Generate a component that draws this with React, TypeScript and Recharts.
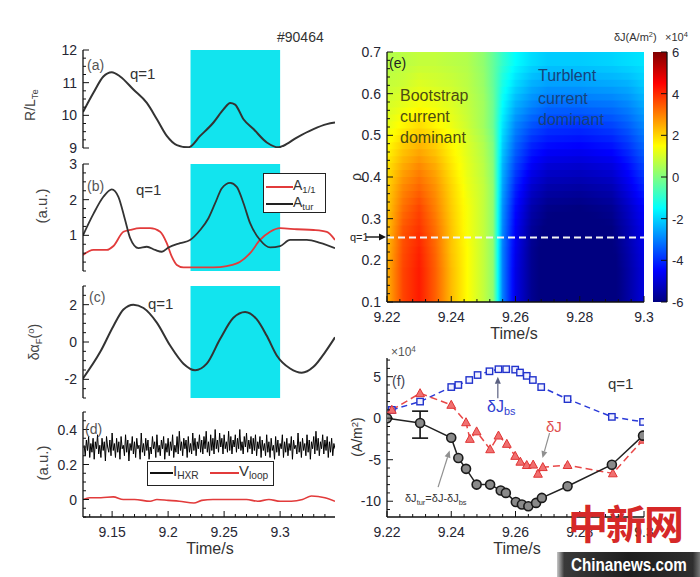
import React from 'react';
import { ComposedChart, Line, XAxis, YAxis, ReferenceArea, ReferenceLine, ErrorBar } from 'recharts';

const FONT = '"Liberation Sans", Arial, Helvetica, sans-serif';

// ---------------- shaded window ----------------
const windowStart = 9.22;
const windowEnd = 9.3;

// ---------------- panel (a) R/L_Te ----------------
const aTime = [9.124, 9.1333, 9.1422, 9.1497, 9.1571, 9.169, 9.181, 9.19, 9.1988, 9.2078, 9.2181, 9.2286, 9.2405, 9.2494, 9.2554, 9.2598, 9.2673, 9.2762, 9.2881, 9.2985, 9.303, 9.3149, 9.3298, 9.3417, 9.349];
const aRLTe = [10.1, 10.69, 11.19, 11.32, 11.19, 10.79, 10.38, 9.88, 9.37, 9.09, 9.02, 9.37, 9.78, 10.18, 10.38, 10.33, 9.88, 9.58, 9.17, 9.02, 9.07, 9.32, 9.58, 9.73, 9.78];

// ---------------- panel (b) ----------------
const bTurTime = [9.124, 9.1333, 9.1422, 9.1497, 9.1556, 9.1616, 9.1661, 9.1735, 9.181, 9.1884, 9.1944, 9.2003, 9.2107, 9.2196, 9.2286, 9.236, 9.242, 9.248, 9.2554, 9.2613, 9.2673, 9.2732, 9.2821, 9.2911, 9.3, 9.3089, 9.3238, 9.3357, 9.349];
const bTur = [1.0, 1.6, 2.08, 2.29, 2.08, 1.43, 0.92, 0.64, 0.68, 0.59, 0.54, 0.66, 0.78, 0.87, 1.15, 1.48, 1.9, 2.32, 2.47, 2.36, 1.9, 1.34, 0.87, 0.66, 0.7, 0.87, 0.87, 0.79, 0.64];
const bA11Time = [9.124, 9.1333, 9.1452, 9.1512, 9.1601, 9.166, 9.175, 9.1839, 9.1929, 9.1988, 9.2033, 9.2078, 9.2137, 9.2226, 9.2405, 9.2524, 9.2643, 9.2732, 9.2821, 9.2911, 9.3, 9.3149, 9.3298, 9.3417, 9.349];
const bA11 = [0.45, 0.59, 0.59, 0.7, 1.1, 1.15, 1.2, 1.2, 1.1, 0.78, 0.4, 0.17, 0.1, 0.1, 0.1, 0.14, 0.26, 0.5, 0.87, 1.1, 1.2, 1.17, 1.15, 1.1, 0.87];

// ---------------- panel (c) ----------------
const cTime = [9.124, 9.1393, 9.1512, 9.1601, 9.169, 9.178, 9.1899, 9.2018, 9.2137, 9.2241, 9.2345, 9.2464, 9.2583, 9.2688, 9.2792, 9.2881, 9.297, 9.3089, 9.3193, 9.3298, 9.3402, 9.349];
const cAlpha = [-1.95, -0.54, 0.86, 1.74, 2.0, 1.82, 1.04, -0.19, -1.16, -1.51, -1.16, 0.16, 1.3, 1.61, 1.21, 0.33, -0.72, -1.42, -1.65, -1.33, -0.54, 0.25];

// ---------------- panel (d) ----------------
const dHxrStart = 9.125;
const dHxrStep = 0.001;
const dHxr = [
  0.31, 0.25, 0.34, 0.28, 0.36, 0.24, 0.32, 0.27, 0.35, 0.23, 0.33, 0.29, 0.37, 0.26, 0.31,
  0.24, 0.35, 0.28, 0.33, 0.22, 0.36, 0.30, 0.27, 0.34, 0.25, 0.38, 0.28, 0.32, 0.24, 0.35,
  0.27, 0.33, 0.23, 0.36, 0.29, 0.31, 0.25, 0.37, 0.27, 0.34, 0.22, 0.32, 0.28, 0.36, 0.26,
  0.33, 0.24, 0.35, 0.29, 0.31, 0.23, 0.38, 0.27, 0.32, 0.25, 0.35, 0.28, 0.34, 0.23, 0.30,
  0.26, 0.36, 0.29, 0.33, 0.24, 0.37, 0.27, 0.31, 0.25, 0.34, 0.29, 0.36, 0.23, 0.32, 0.27,
  0.35, 0.25, 0.33, 0.28, 0.37, 0.24, 0.31, 0.27, 0.36, 0.26, 0.39, 0.28, 0.33, 0.25, 0.35,
  0.29, 0.34, 0.24, 0.36, 0.27, 0.32, 0.26, 0.38, 0.28, 0.35, 0.25, 0.33, 0.29, 0.37, 0.27,
  0.34, 0.26, 0.36, 0.29, 0.39, 0.27, 0.33, 0.25, 0.37, 0.28, 0.35, 0.26, 0.40, 0.29, 0.34,
  0.27, 0.38, 0.30, 0.35, 0.26, 0.37, 0.29, 0.33, 0.27, 0.39, 0.28, 0.36, 0.26, 0.34, 0.30,
  0.37, 0.27, 0.35, 0.29, 0.40, 0.28, 0.33, 0.26, 0.36, 0.30, 0.38, 0.27, 0.34, 0.29, 0.36,
  0.26, 0.35, 0.28, 0.37, 0.25, 0.33, 0.29, 0.36, 0.24, 0.34, 0.28, 0.32, 0.25, 0.37, 0.27,
  0.33, 0.24, 0.35, 0.28, 0.31, 0.23, 0.36, 0.27, 0.34, 0.25, 0.32, 0.29, 0.37, 0.24, 0.33,
  0.27, 0.35, 0.25, 0.32, 0.28, 0.36, 0.23, 0.34, 0.29, 0.31, 0.26, 0.38, 0.27, 0.33, 0.24,
  0.35, 0.28, 0.32, 0.25, 0.37, 0.27, 0.34, 0.23, 0.33, 0.29, 0.36, 0.26, 0.39, 0.28, 0.35,
  0.25, 0.33, 0.29, 0.37, 0.26, 0.34, 0.28, 0.36, 0.24, 0.33, 0.27, 0.35, 0.25, 0.32, 0.29,
];
const dVloopTime = [9.124, 9.13, 9.14, 9.151, 9.16, 9.17, 9.184, 9.19, 9.2, 9.21, 9.223, 9.23, 9.24, 9.25, 9.26, 9.27, 9.28, 9.29, 9.3, 9.31, 9.32, 9.328, 9.34, 9.349];
const dVloop = [0.0, 0.01, 0.01, 0.015, 0.0, 0.0, -0.01, 0.0, -0.005, -0.01, -0.02, -0.005, 0.0, 0.0, 0.0, 0.0, -0.01, 0.0, -0.01, -0.01, 0.0, 0.02, 0.01, -0.01];

// ---------------- panel (e) heat map (x1e4 A/m^2) ----------------
const heatTimes = [9.22, 9.225, 9.23, 9.235, 9.24, 9.245, 9.25, 9.253, 9.256, 9.26, 9.265, 9.27, 9.28, 9.29, 9.295, 9.3];
const heatRho = [0.125, 0.175, 0.225, 0.275, 0.325, 0.375, 0.425, 0.475, 0.525, 0.575, 0.625, 0.675];
const heatValues = [
  [2.4, 3.7, 4.2, 3.4, 2.3, 1.5, 0.8, 0.2, -3.0, -4.8, -5.8, -6.2, -6.3, -6.2, -5.6, -4.9],
  [2.4, 3.7, 4.2, 3.4, 2.3, 1.5, 0.8, 0.2, -3.0, -4.8, -5.8, -6.2, -6.3, -6.2, -5.6, -4.9],
  [2.3, 3.6, 4.1, 3.3, 2.2, 1.5, 0.8, 0.2, -3.0, -4.7, -5.8, -6.2, -6.3, -6.1, -5.5, -4.8],
  [2.2, 3.5, 3.9, 3.2, 2.2, 1.4, 0.8, 0.2, -2.9, -4.6, -5.7, -6.1, -6.2, -6.0, -5.4, -4.7],
  [2.1, 3.2, 3.7, 3.0, 2.1, 1.4, 0.8, 0.2, -2.8, -4.4, -5.5, -5.9, -6.0, -5.8, -5.2, -4.5],
  [2.0, 2.9, 3.3, 2.8, 2.0, 1.3, 0.8, 0.2, -2.6, -4.1, -5.1, -5.5, -5.6, -5.4, -4.8, -4.1],
  [1.8, 2.5, 2.9, 2.5, 1.8, 1.2, 0.7, 0.1, -2.4, -3.7, -4.6, -5.0, -5.1, -4.9, -4.4, -3.7],
  [1.5, 2.1, 2.4, 2.1, 1.6, 1.1, 0.6, 0.0, -2.1, -3.3, -4.1, -4.4, -4.5, -4.3, -3.9, -3.3],
  [1.2, 1.6, 1.9, 1.6, 1.3, 0.9, 0.4, -0.2, -1.8, -2.9, -3.5, -3.8, -3.9, -3.7, -3.4, -2.9],
  [1.0, 1.2, 1.4, 1.3, 1.1, 0.8, 0.4, -0.2, -1.5, -2.4, -2.9, -3.2, -3.2, -3.1, -2.9, -2.5],
  [0.8, 0.9, 1.1, 1.0, 0.9, 0.7, 0.3, -0.3, -1.2, -1.9, -2.4, -2.6, -2.6, -2.5, -2.4, -2.1],
  [0.6, 0.7, 0.8, 0.8, 0.7, 0.6, 0.2, -0.3, -0.9, -1.5, -1.9, -2.1, -2.1, -2.0, -1.9, -1.8],
];
const qRho = 0.255;
const cbarLabels = [-6, -4, -2, 0, 2, 4, 6];
const cbarLevels = [-6, -5.5, -5, -4.5, -4, -3.5, -3, -2.5, -2, -1.5, -1, -0.5, 0, 0.5, 1, 1.5, 2, 2.5, 3, 3.5, 4, 4.5, 5, 5.5, 6];

// ---------------- panel (f) (x1e4 A/m^2) ----------------
const fBsTime = [9.2215, 9.2303, 9.24, 9.2422, 9.2456, 9.2482, 9.2519, 9.2547, 9.2571, 9.2599, 9.2614, 9.2635, 9.2654, 9.268, 9.2762, 9.29, 9.2997];
const fBs = [1.0, 2.0, 3.75, 4.0, 4.6, 5.2, 5.65, 5.9, 5.9, 5.85, 5.5, 5.1, 4.6, 3.75, 2.3, 0.16, -0.45];
const fJTime = [9.2215, 9.2303, 9.24, 9.2446, 9.2458, 9.2479, 9.2521, 9.2547, 9.2573, 9.2599, 9.2615, 9.2635, 9.2655, 9.267, 9.2685, 9.2762, 9.2903, 9.2997];
const fJ = [1.0, 3.0, 1.6, -0.5, -2.5, -1.6, -3.75, -2.1, -3.1, -4.55, -5.25, -5.65, -5.6, -6.7, -5.9, -5.65, -6.65, -2.6];
const fTurTime = [9.22, 9.2303, 9.24, 9.2422, 9.2446, 9.2479, 9.2521, 9.2554, 9.257, 9.2601, 9.262, 9.264, 9.2664, 9.2682, 9.2762, 9.29, 9.2997];
const fTur = [0, -0.57, -2.35, -4.8, -6.1, -8.0, -8.0, -8.7, -9.0, -10.1, -10.4, -10.6, -10.2, -9.6, -8.2, -5.6, -2.1];
const fErrTime = [9.2303];
const fErrVal = [-0.57];
const fErrLow = [1.83];
const fErrHigh = [1.42];
const fArrows = [
  { x1: 9.2545, y1: 2.4, x2: 9.2545, y2: 5.0, color: '#5a6080' },
  { x1: 9.2706, y1: -1.8, x2: 9.2684, y2: -4.8, color: '#909090' },
  { x1: 9.2359, y1: -8.3, x2: 9.2395, y2: -3.9, color: '#909090' },
];

// ---------------- tick labels ----------------
const leftXLabels = [9.15, 9.2, 9.25, 9.3];
const aYLabels = [9, 10, 11, 12];
const bYLabels = [1, 2, 3];
const cYLabels = [-2, 0, 2];
const dYLabels = [0, 0.2, 0.4];
const eXLabels = [9.22, 9.24, 9.26, 9.28, 9.3];
const eYLabels = [0.1, 0.2, 0.3, 0.4, 0.5, 0.6, 0.7];
const fXLabels = [9.22, 9.24, 9.26, 9.28, 9.3];
const fYLabels = [-10, -5, 0, 5];

// ---------------- helpers ----------------
const seq = (a: number, b: number, s: number) => {
  const out: number[] = [];
  const n = Math.round((b - a) / s);
  for (let i = 0; i <= n; i++) out.push(+(a + i * s).toFixed(6));
  return out;
};
const zip = (t: number[], v: number[]) => t.map((x, i) => ({ t: x, v: v[i] }));

function jet(v: number) {
  const x = Math.min(1, Math.max(0, (v + 6) / 12));
  const c = (f: number) => Math.round(255 * Math.min(1, Math.max(0, f)));
  return `rgb(${c(1.5 - Math.abs(4 * x - 3))},${c(1.5 - Math.abs(4 * x - 2))},${c(1.5 - Math.abs(4 * x - 1))})`;
}

// heat-map bands (rendering only: colour stops built from heatValues)
const NB = 36;
const SUB = 4;
const rowAt = (rho: number) => {
  if (rho <= heatRho[0]) return heatValues[0];
  if (rho >= heatRho[heatRho.length - 1]) return heatValues[heatValues.length - 1];
  let i = 0;
  while (heatRho[i + 1] < rho) i++;
  const f = (rho - heatRho[i]) / (heatRho[i + 1] - heatRho[i]);
  return heatValues[i].map((v, j) => v + (heatValues[i + 1][j] - v) * f);
};
const heatBands = Array.from({ length: NB }, (_, k) => {
  const h = 0.6 / NB;
  const y1 = 0.1 + k * h;
  const y2 = Math.min(0.7, y1 + h + 0.004);
  const row = rowAt(y1 + h / 2);
  const stops: { o: number; c: string }[] = [];
  for (let i = 0; i < heatTimes.length - 1; i++) {
    for (let s = 0; s < SUB; s++) {
      const f = s / SUB;
      const t = heatTimes[i] + (heatTimes[i + 1] - heatTimes[i]) * f;
      const v = row[i] + (row[i + 1] - row[i]) * f;
      stops.push({ o: (t - 9.22) / 0.08, c: jet(v) });
    }
  }
  stops.push({ o: 1, c: jet(row[row.length - 1]) });
  return { id: `hb${k}`, y1, y2, stops };
});
const cbarStops = cbarLevels.map((v) => ({ o: (v + 6) / 12, c: jet(v) }));

type Box = { l: number; t: number; r: number; b: number };
const PAD = 10;
function frame(box: Box, yw: number, xh: number, rw = 0) {
  return {
    style: { position: 'absolute' as const, left: box.l - yw - PAD, top: box.t - PAD },
    width: box.r - box.l + yw + rw + 2 * PAD,
    height: box.b - box.t + xh + 2 * PAD,
    margin: { top: PAD, right: PAD, bottom: PAD, left: PAD },
  };
}
const AX = { stroke: '#111', strokeWidth: 1.3 };
const isIn = (list: number[] | null, v: number) => !!list && list.some((m) => Math.abs(m - v) < 1e-9);

// custom inward tick: draws the tick line (major longer) and the label for labelled majors
const mkTick = (side: 'b' | 't' | 'l' | 'r', majors: number[], labels: boolean, fontSize = 14, show = true) => (p: any) => {
  if (!show) return <g />;
  const v = p.payload?.value as number;
  const x = p.x as number, y = p.y as number;
  const major = isIn(majors, v);
  const len = major ? 6 : 3;
  let ln: React.ReactNode;
  let tx: React.ReactNode = null;
  const ts = { fill: '#262633', fontSize, fontFamily: FONT };
  if (side === 'b') {
    ln = <line x1={x} y1={y} x2={x} y2={y - len} stroke="#111" strokeWidth={1} />;
    if (labels && major) tx = <text x={x} y={y + 20} textAnchor="middle" {...ts}>{String(v)}</text>;
  } else if (side === 't') {
    ln = <line x1={x} y1={y} x2={x} y2={y + len} stroke="#111" strokeWidth={1} />;
  } else if (side === 'l') {
    ln = <line x1={x} y1={y} x2={x + len} y2={y} stroke="#111" strokeWidth={1} />;
    if (labels && major) tx = <text x={x - 6} y={y + 5} textAnchor="end" {...ts}>{String(v)}</text>;
  } else {
    ln = <line x1={x} y1={y} x2={x - len} y2={y} stroke="#111" strokeWidth={1} />;
    if (labels && major) tx = <text x={x + 5} y={y + 5} textAnchor="start" {...ts}>{String(v)}</text>;
  }
  return <g>{ln}{tx}</g>;
};

function frameAxes(p: {
  xd: [number, number]; yd: [number, number]; xt: number[]; yt: number[];
  xm: number[]; ym: number[]; xl: boolean; yl: boolean; xh: number; yw: number;
  rl?: boolean; rw?: number; showX?: boolean; showL?: boolean;
}) {
  const common = { type: 'number' as const, allowDataOverflow: true, interval: 0 as const, tickSize: 0, tickMargin: 0, tickLine: false, axisLine: AX };
  const showX = p.showX !== false;
  const showL = p.showL !== false;
  return [
    <XAxis key="xb" xAxisId="b" dataKey="t" orientation="bottom" domain={p.xd} ticks={p.xt} height={p.xh} tick={mkTick('b', p.xm, p.xl, 14, showX)} {...common} />,
    <XAxis key="xt" xAxisId="t" dataKey="t" orientation="top" domain={p.xd} ticks={p.xt} height={0} tick={mkTick('t', p.xm, false, 14, showX)} {...common} />,
    <YAxis key="yl" yAxisId="l" orientation="left" domain={p.yd} ticks={p.yt} width={p.yw} tick={mkTick('l', p.ym, p.yl, 14, showL)} {...common} />,
    <YAxis key="yr" yAxisId="r" orientation="right" domain={p.yd} ticks={p.yt} width={p.rw ?? 0} tick={mkTick('r', p.ym, !!p.rl, 13)} {...common} />,
  ];
}

function Txt(props: { x: number; y: number; size?: number; color?: string; rotate?: boolean; center?: boolean; children: React.ReactNode }) {
  const { x, y, size = 14, color = '#222', rotate, center, children } = props;
  return (
    <div style={{
      position: 'absolute', left: x, top: y, fontSize: size, color, fontFamily: FONT, lineHeight: 1, whiteSpace: 'nowrap',
      transform: rotate ? 'translate(-50%,-50%) rotate(-90deg)' : center ? 'translate(-50%,-50%)' : 'translateY(-50%)',
    }}>{children}</div>
  );
}
const Sub = ({ children }: { children: React.ReactNode }) => <span style={{ fontSize: '0.68em', verticalAlign: '-0.35em' }}>{children}</span>;
const Sup = ({ children }: { children: React.ReactNode }) => <span style={{ fontSize: '0.68em', verticalAlign: '0.5em' }}>{children}</span>;
const Seg = ({ x1, x2, y, color }: { x1: number; x2: number; y: number; color: string }) =>
  <div style={{ position: 'absolute', left: x1, top: y - 1, width: x2 - x1, height: 2, background: color }} />;

const squareDot = (p: any) => (
  <rect key={`s${p.index}`} x={p.cx - 3.2} y={p.cy - 3.2} width={6.4} height={6.4} fill="#f2f2ff" stroke="#2233cc" strokeWidth={1.4} />
);
const triDot = (p: any) => (
  <polygon key={`t${p.index}`} points={`${p.cx},${p.cy - 4.6} ${p.cx - 4.4},${p.cy + 3.4} ${p.cx + 4.4},${p.cy + 3.4}`} fill="#f07070" stroke="#e03535" strokeWidth={1} />
);
const circDot = (p: any) => (
  <circle key={`c${p.index}`} cx={p.cx} cy={p.cy} r={4.5} fill="#8a8a8a" stroke="#1a1a1a" strokeWidth={1.6} />
);
const arrowShape = (color: string) => (p: any) => {
  const { x1, y1, x2, y2 } = p;
  const ang = Math.atan2(y2 - y1, x2 - x1);
  const L = 7, W = 3;
  const bx = x2 - L * Math.cos(ang), by = y2 - L * Math.sin(ang);
  const px = -Math.sin(ang) * W, py = Math.cos(ang) * W;
  return (
    <g>
      <line x1={x1} y1={y1} x2={bx} y2={by} stroke={color} strokeWidth={1.2} />
      <polygon points={`${x2},${y2} ${bx + px},${by + py} ${bx - px},${by - py}`} fill={color} />
    </g>
  );
};

// ---------------- layout boxes ----------------
const LX: [number, number] = [9.124, 9.349];
const boxA: Box = { l: 83, t: 50, r: 335, b: 148 };
const boxB: Box = { l: 83, t: 164, r: 335, b: 271 };
const boxC: Box = { l: 83, t: 286, r: 335, b: 398 };
const boxD: Box = { l: 83, t: 412, r: 335, b: 517 };
const boxE: Box = { l: 387, t: 52, r: 644, b: 302 };
const boxCb: Box = { l: 653, t: 52, r: 667, b: 302 };
const boxF: Box = { l: 387, t: 358, r: 644, b: 517 };

const leftXT = seq(9.13, 9.34, 0.01);

function LeftPanel(props: { box: Box; yd: [number, number]; yt: number[]; yl: number[]; xLabels: boolean; shade: boolean; children: React.ReactNode }) {
  const xh = props.xLabels ? 25 : 0;
  const f = frame(props.box, 40, xh);
  return (
    <div style={f.style}>
      <ComposedChart width={f.width} height={f.height} margin={f.margin}>
        {props.shade && <ReferenceArea xAxisId="b" yAxisId="l" x1={windowStart} x2={windowEnd} fill="#12e4ee" fillOpacity={1} stroke="none" ifOverflow="hidden" />}
        {props.children}
        {frameAxes({ xd: LX, yd: props.yd, xt: leftXT, yt: props.yt, xm: leftXLabels, ym: props.yl, xl: props.xLabels, yl: true, xh, yw: 40 })}
      </ComposedChart>
    </div>
  );
}

export default function App() {
  const fE = frame(boxE, 40, 25);
  const fCb = frame(boxCb, 0, 0, 25);
  const fF = frame(boxF, 40, 25);
  const hxrData = dHxr.map((v, i) => ({ t: +(dHxrStart + i * dHxrStep).toFixed(4), v }));
  const errData = fErrTime.map((t, i) => ({ t, v: fErrVal[i], err: [fErrLow[i], fErrHigh[i]] }));

  return (
    <div style={{ position: 'absolute', left: 0, top: 0, width: 700, height: 577, background: '#fff', overflow: 'hidden', fontFamily: FONT }}>
      <svg width={0} height={0} style={{ position: 'absolute' }}>
        <defs>
          {heatBands.map((b) => (
            <linearGradient key={b.id} id={b.id} x1="0" y1="0" x2="1" y2="0">
              {b.stops.map((s, i) => <stop key={i} offset={s.o} stopColor={s.c} />)}
            </linearGradient>
          ))}
          <linearGradient id="cbarGrad" x1="0" y1="1" x2="0" y2="0">
            {cbarStops.map((s, i) => <stop key={i} offset={s.o} stopColor={s.c} />)}
          </linearGradient>
        </defs>
      </svg>

      {/* (a) */}
      <LeftPanel box={boxA} yd={[9, 12]} yt={seq(9, 12, 0.25)} yl={aYLabels} xLabels={false} shade>
        <Line xAxisId="b" yAxisId="l" data={zip(aTime, aRLTe)} dataKey="v" type="monotone" stroke="#333" strokeWidth={2} dot={false} isAnimationActive={false} />
      </LeftPanel>
      {/* (b) */}
      <LeftPanel box={boxB} yd={[0, 3]} yt={seq(0, 3, 0.25)} yl={bYLabels} xLabels={false} shade>
        <Line xAxisId="b" yAxisId="l" data={zip(bA11Time, bA11)} dataKey="v" type="monotone" stroke="#e23b3b" strokeWidth={1.8} dot={false} isAnimationActive={false} />
        <Line xAxisId="b" yAxisId="l" data={zip(bTurTime, bTur)} dataKey="v" type="monotone" stroke="#333" strokeWidth={1.8} dot={false} isAnimationActive={false} />
      </LeftPanel>
      {/* (c) */}
      <LeftPanel box={boxC} yd={[-3, 3]} yt={seq(-3, 3, 0.5)} yl={cYLabels} xLabels={false} shade>
        <Line xAxisId="b" yAxisId="l" data={zip(cTime, cAlpha)} dataKey="v" type="monotone" stroke="#333" strokeWidth={2} dot={false} isAnimationActive={false} />
      </LeftPanel>
      {/* (d) */}
      <LeftPanel box={boxD} yd={[-0.1, 0.5]} yt={seq(-0.1, 0.5, 0.05)} yl={dYLabels} xLabels={true} shade={false}>
        <Line xAxisId="b" yAxisId="l" data={hxrData} dataKey="v" type="linear" stroke="#000" strokeWidth={1} dot={false} isAnimationActive={false} />
        <Line xAxisId="b" yAxisId="l" data={zip(dVloopTime, dVloop)} dataKey="v" type="monotone" stroke="#e23b3b" strokeWidth={1.6} dot={false} isAnimationActive={false} />
      </LeftPanel>

      {/* (e) heat map */}
      <div style={fE.style}>
        <ComposedChart width={fE.width} height={fE.height} margin={fE.margin}>
          {heatBands.map((b) => (
            <ReferenceArea key={b.id} xAxisId="b" yAxisId="l" x1={9.22} x2={9.3} y1={b.y1} y2={b.y2} fill={`url(#${b.id})`} fillOpacity={1} stroke="none" ifOverflow="hidden" />
          ))}
          <ReferenceLine xAxisId="b" yAxisId="l" y={qRho} stroke="#f4f4f4" strokeWidth={2} strokeDasharray="7 4" />
          {frameAxes({ xd: [9.22, 9.3], yd: [0.1, 0.7], xt: seq(9.22, 9.3, 0.004), yt: seq(0.1, 0.7, 0.02), xm: eXLabels, ym: eYLabels, xl: true, yl: true, xh: 25, yw: 40 })}
        </ComposedChart>
      </div>

      {/* colour bar (same structure as the heat map chart) */}
      <div style={fCb.style}>
        <ComposedChart width={fCb.width} height={fCb.height} margin={fCb.margin}>
          <ReferenceArea xAxisId="b" yAxisId="l" x1={0} x2={1} y1={-6} y2={6} fill="url(#cbarGrad)" fillOpacity={1} stroke="none" ifOverflow="hidden" />
          {frameAxes({ xd: [0, 1], yd: [-6, 6], xt: [0, 1], yt: cbarLabels, xm: [], ym: cbarLabels, xl: false, yl: false, xh: 0, yw: 0, rl: true, rw: 25, showX: false, showL: false })}
        </ComposedChart>
      </div>

      {/* (f) */}
      <div style={fF.style}>
        <ComposedChart width={fF.width} height={fF.height} margin={fF.margin}>
          {fArrows.map((a, i) => (
            <ReferenceLine key={`ar${i}`} xAxisId="b" yAxisId="l" segment={[{ x: a.x1, y: a.y1 }, { x: a.x2, y: a.y2 }]} ifOverflow="visible" shape={arrowShape(a.color)} />
          ))}
          <Line xAxisId="b" yAxisId="l" data={zip(fBsTime, fBs)} dataKey="v" type="linear" stroke="#2a3ad8" strokeWidth={1.5} strokeDasharray="6 4" dot={squareDot} isAnimationActive={false} />
          <Line xAxisId="b" yAxisId="l" data={zip(fJTime, fJ)} dataKey="v" type="linear" stroke="#e84848" strokeWidth={1.5} strokeDasharray="7 4" dot={triDot} isAnimationActive={false} />
          <Line xAxisId="b" yAxisId="l" data={errData} dataKey="v" stroke="none" dot={false} isAnimationActive={false}>
            <ErrorBar dataKey="err" direction="y" width={8} stroke="#111" strokeWidth={1.6} />
          </Line>
          <Line xAxisId="b" yAxisId="l" data={zip(fTurTime, fTur)} dataKey="v" type="linear" stroke="#222" strokeWidth={1.5} dot={circDot} isAnimationActive={false} />
          {frameAxes({ xd: [9.22, 9.3], yd: [-11.9, 7.25], xt: seq(9.22, 9.3, 0.004), yt: seq(-11, 7, 1), xm: fXLabels, ym: fYLabels, xl: true, yl: true, xh: 25, yw: 40 })}
        </ComposedChart>
      </div>

      {/* ---------- left column texts ---------- */}
      <Txt x={277} y={37} size={14} color="#333">#90464</Txt>
      <Txt x={87} y={65} color="#555">(a)</Txt>
      <Txt x={130} y={73} size={15} color="#333">q=1</Txt>
      <Txt x={87} y={186} color="#555">(b)</Txt>
      <Txt x={136} y={189} size={15} color="#333">q=1</Txt>
      <Txt x={89} y={297} color="#555">(c)</Txt>
      <Txt x={148} y={303} size={15} color="#333">q=1</Txt>
      <Txt x={85} y={429} color="#555">(d)</Txt>
      <Txt x={31} y={105} size={14} color="#444" rotate>R/L<Sub>Te</Sub></Txt>
      <Txt x={41} y={206} size={15} color="#444" rotate>(a.u.)</Txt>
      <Txt x={35} y={342} size={14} color="#444" rotate>δα<Sub>F</Sub>(<Sup>o</Sup>)</Txt>
      <Txt x={42} y={463} size={15} color="#444" rotate>(a.u.)</Txt>
      <Txt x={210} y={549} size={16} color="#333" center>Time/s</Txt>

      {/* legend (b) */}
      <div style={{ position: 'absolute', left: 263, top: 173, width: 63, height: 40, border: '1.5px solid #222', background: '#fff', boxSizing: 'border-box' }} />
      <Seg x1={266} x2={293} y={187} color="#e23b3b" />
      <Txt x={293} y={186} size={14} color="#333">A<Sub>1/1</Sub></Txt>
      <Seg x1={266} x2={293} y={204} color="#222" />
      <Txt x={293} y={203} size={14} color="#333">A<Sub>tur</Sub></Txt>

      {/* legend (d) */}
      <div style={{ position: 'absolute', left: 147, top: 461, width: 127, height: 25, border: '1.5px solid #222', background: '#fff', boxSizing: 'border-box' }} />
      <Seg x1={150} x2={173} y={473} color="#111" />
      <Txt x={173} y={472} size={15} color="#333">I<Sub>HXR</Sub></Txt>
      <Seg x1={210} x2={239} y={473} color="#e23b3b" />
      <Txt x={239} y={472} size={15} color="#333">V<Sub>loop</Sub></Txt>

      {/* ---------- (e) texts ---------- */}
      <Txt x={614} y={37} size={11} color="#333">δJ(A/m<Sup>2</Sup>)</Txt>
      <Txt x={665} y={37} size={11} color="#333">×10<Sup>4</Sup></Txt>
      <Txt x={389} y={63} color="#222">(e)</Txt>
      <Txt x={400} y={96} size={16} color="#4b4b12">Bootstrap</Txt>
      <Txt x={400} y={117} size={16} color="#4b4b12">current</Txt>
      <Txt x={400} y={138} size={16} color="#4b4b12">dominant</Txt>
      <Txt x={538} y={76} size={16} color="#17437a">Turblent</Txt>
      <Txt x={538} y={99} size={16} color="#17437a">current</Txt>
      <Txt x={538} y={120} size={16} color="#17437a">dominant</Txt>
      <Txt x={356} y={177} size={14} color="#333" rotate>ρ</Txt>
      <Txt x={350} y={237} size={11} color="#222">q=1</Txt>
      <svg width={22} height={10} style={{ position: 'absolute', left: 366, top: 232 }}>
        <line x1={0} y1={5} x2={15} y2={5} stroke="#111" strokeWidth={1.4} />
        <polygon points="20,5 13,1.5 13,8.5" fill="#111" />
      </svg>
      <Txt x={514} y={334} size={16} color="#333" center>Time/s</Txt>

      {/* ---------- (f) texts ---------- */}
      <Txt x={391} y={352} size={12} color="#555">×10<Sup>4</Sup></Txt>
      <Txt x={392} y={381} color="#445">(f)</Txt>
      <Txt x={608} y={383} size={15} color="#333">q=1</Txt>
      <Txt x={487} y={408} size={16} color="#3040d0">δJ<Sub>bs</Sub></Txt>
      <Txt x={546} y={426} size={15} color="#e05050">δJ</Txt>
      <Txt x={405} y={500} size={11} color="#333">δJ<Sub>tur</Sub>=δJ-δJ<Sub>bs</Sub></Txt>
      <Txt x={357} y={437} size={14} color="#333" rotate>(A/m<Sup>2</Sup>)</Txt>
      <Txt x={517} y={549} size={16} color="#333" center>Time/s</Txt>

      {/* ---------- watermark ---------- */}
      <div style={{ position: 'absolute', left: 568, top: 502, fontSize: 40, lineHeight: 1, color: '#d62828', fontFamily: '"Noto Sans CJK SC", sans-serif', fontWeight: 700, letterSpacing: -2 }}>中新网</div>
      <div style={{ position: 'absolute', left: 557, top: 552, width: 143, height: 25, background: 'linear-gradient(90deg,#c8c8c8 0%,#3a3a3a 5%,#1e1e1e 50%,#2e2e2e 95%,#777 100%)' }}>
        <div style={{ position: 'absolute', left: 14, top: 3, fontSize: 19, lineHeight: 1, color: '#fff', fontWeight: 700, fontFamily: FONT, transform: 'scaleX(0.8)', transformOrigin: 'left center', whiteSpace: 'nowrap' }}>Chinanews.com</div>
      </div>
    </div>
  );
}
